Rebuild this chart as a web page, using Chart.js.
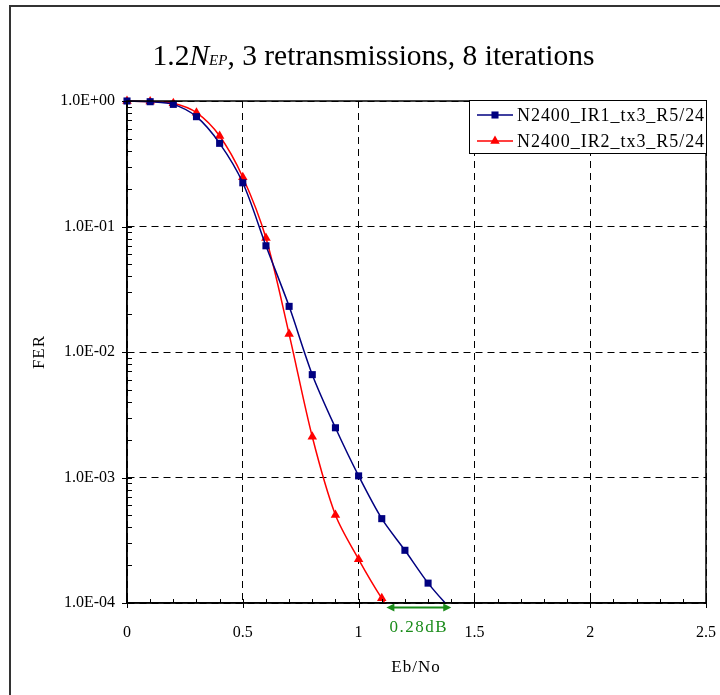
<!DOCTYPE html>
<html>
<head>
<meta charset="utf-8">
<script src="https://cdn.jsdelivr.net/npm/chart.js@4.4.1/dist/chart.umd.min.js"></script>
<style>
  html, body { margin: 0; padding: 0; background: #fff; }
  #wrap { width: 720px; height: 695px; }
</style>
</head>
<body>
<div id="wrap"><canvas id="fer" width="720" height="695"></canvas></div>
<script>
// values
const ebNoIR1 = [0, 0.1, 0.2, 0.3, 0.4, 0.5, 0.6, 0.7, 0.8, 0.9, 1.0, 1.1, 1.2, 1.3, 1.4];
const ferIR1 = [1.0, 0.987, 0.94, 0.75, 0.46, 0.223, 0.0702, 0.0231, 0.0066, 0.00249, 0.00103, 0.00047, 0.000263, 0.000144, 0.000088];
const ebNoIR2 = [0, 0.1, 0.2, 0.3, 0.4, 0.5, 0.6, 0.7, 0.8, 0.9, 1.0, 1.1, 1.2];
const ferIR2 = [1.0, 0.99, 0.958, 0.807, 0.526, 0.247, 0.0809, 0.0139, 0.00211, 0.000502, 0.000223, 0.000109, 0.00006];
const seriesNames = ['N2400_IR1_tx3_R5/24', 'N2400_IR2_tx3_R5/24'];

const xTicks = [0, 0.5, 1, 1.5, 2, 2.5];
const yTicks = [1, 1e-1, 1e-2, 1e-3, 1e-4];
const yTickLabels = ['1.0E+00', '1.0E-01', '1.0E-02', '1.0E-03', '1.0E-04'];

const gapFrom = 1.12, gapTo = 1.40;
const gapLabel = '0.28dB';

const SERIF = '"Liberation Serif", "Times New Roman", serif';

const toPts = (xs, ys) => xs.map((x, i) => ({ x: x, y: ys[i] }));

function drawTitle(ctx) {
  const parts = [
    { t: '1.2', f: '29.5px ' + SERIF },
    { t: 'N', f: 'italic 29.5px ' + SERIF },
    { t: 'EP', f: 'italic 15px ' + SERIF },
    { t: ', 3 retransmissions, 8 iterations', f: '29.5px ' + SERIF }
  ];
  let total = 0;
  parts.forEach(p => { ctx.font = p.f; p.w = ctx.measureText(p.t).width; total += p.w; });
  let x = 373.5 - total / 2;
  ctx.fillStyle = '#000';
  ctx.textBaseline = 'alphabetic';
  ctx.textAlign = 'left';
  parts.forEach(p => { ctx.font = p.f; ctx.fillText(p.t, x, 65); x += p.w; });
}

function drawArrowHead(ctx, x, y, dir) {
  ctx.beginPath();
  ctx.moveTo(x, y);
  ctx.lineTo(x - dir * 8, y - 4);
  ctx.lineTo(x - dir * 8, y + 4);
  ctx.closePath();
  ctx.fill();
}

const decor = {
  id: 'decor',
  afterDatasetsDraw(chart) {
    const { ctx, chartArea: a, scales: { x, y } } = chart;
    ctx.save();

    // plot frame
    ctx.strokeStyle = '#000';
    ctx.lineWidth = 1.5;
    ctx.strokeRect(a.left, a.top, a.right - a.left, a.bottom - a.top);

    // major and minor ticks
    ctx.lineWidth = 1;
    ctx.beginPath();
    for (let i = 0; i <= 25; i++) {
      const px = Math.round(x.getPixelForValue(i / 10)) + 0.5;
      const major = i % 5 === 0;
      ctx.moveTo(px, a.bottom - 4);
      ctx.lineTo(px, a.bottom + (major ? 5 : 0));
    }
    yTicks.forEach((d, i) => {
      const py = Math.round(y.getPixelForValue(d)) + 0.5;
      ctx.moveTo(a.left - 5, py);
      ctx.lineTo(a.left + 5, py);
      if (i < yTicks.length - 1) {
        for (let k = 2; k <= 9; k++) {
          const pm = Math.round(y.getPixelForValue(d / 10 * k)) + 0.5;
          ctx.moveTo(a.left, pm);
          ctx.lineTo(a.left + 5, pm);
        }
      }
    });
    ctx.stroke();

    // outer frame of the picture
    ctx.strokeStyle = '#333';
    ctx.lineWidth = 2;
    ctx.beginPath();
    ctx.moveTo(10, 695);
    ctx.lineTo(10, 6);
    ctx.lineTo(720, 6);
    ctx.stroke();

    drawTitle(ctx);

    // axis titles
    ctx.fillStyle = '#000';
    ctx.textAlign = 'center';
    ctx.textBaseline = 'middle';
    ctx.font = '17px ' + SERIF;
    ctx.letterSpacing = '1px';
    ctx.fillText('Eb/No', 416, 668);
    ctx.save();
    ctx.translate(40, 352);
    ctx.rotate(-Math.PI / 2);
    ctx.fillText('FER', 0, 0);
    ctx.restore();

    // gap annotation
    const g1 = x.getPixelForValue(gapFrom), g2 = x.getPixelForValue(gapTo);
    const gy = a.bottom + 4.5;
    ctx.strokeStyle = '#1a8c1a';
    ctx.fillStyle = '#1a8c1a';
    ctx.lineWidth = 2;
    ctx.beginPath();
    ctx.moveTo(g1 + 4, gy);
    ctx.lineTo(g2 - 4, gy);
    ctx.stroke();
    drawArrowHead(ctx, g1, gy, -1);
    drawArrowHead(ctx, g2, gy, 1);
    ctx.font = '17px ' + SERIF;
    ctx.letterSpacing = '1.5px';
    ctx.fillText(gapLabel, (g1 + g2) / 2, 628);

    // legend
    const lx = 469, ly = 100, lr = a.right, lb = 153;
    ctx.letterSpacing = '0px';
    ctx.fillStyle = '#fff';
    ctx.fillRect(lx, ly, lr - lx, lb - ly);
    ctx.strokeStyle = '#000';
    ctx.lineWidth = 1;
    ctx.strokeRect(lx + 0.5, ly + 0.5, lr - lx, lb - ly);
    chart.data.datasets.forEach((ds, i) => {
      const cy = 115 + i * 26;
      ctx.strokeStyle = ds.borderColor;
      ctx.lineWidth = 1.5;
      ctx.beginPath();
      ctx.moveTo(477, cy);
      ctx.lineTo(513, cy);
      ctx.stroke();
      ctx.fillStyle = ds.borderColor;
      Chart.helpers.drawPoint(ctx, { pointStyle: ds.pointStyle, radius: ds.pointRadius, borderWidth: 0 }, 495, cy);
      ctx.fillStyle = '#000';
      ctx.textAlign = 'left';
      ctx.textBaseline = 'middle';
      ctx.font = '18px ' + SERIF;
      ctx.letterSpacing = '0.95px';
      ctx.fillText(ds.label, 517, cy + 1);
    });
    ctx.letterSpacing = '0px';
    ctx.restore();
  }
};

new Chart(document.getElementById('fer'), {
  type: 'line',
  data: {
    datasets: [
      {
        label: seriesNames[0],
        data: toPts(ebNoIR1, ferIR1),
        borderColor: '#000080',
        backgroundColor: '#000080',
        borderWidth: 1.5,
        pointStyle: 'rect',
        pointRadius: 5,
        pointBorderWidth: 0,
        tension: 0.3,
        clip: { left: 10, top: 10, right: 10, bottom: 0 }
      },
      {
        label: seriesNames[1],
        data: toPts(ebNoIR2, ferIR2),
        borderColor: '#ff0000',
        backgroundColor: '#ff0000',
        borderWidth: 1.5,
        pointStyle: 'triangle',
        pointRadius: 5.5,
        pointBorderWidth: 0,
        tension: 0.3,
        clip: { left: 10, top: 10, right: 10, bottom: 0 }
      }
    ]
  },
  options: {
    responsive: false,
    animation: false,
    devicePixelRatio: 1,
    layout: { padding: { left: 0, right: 14, top: 101, bottom: 0 } },
    plugins: {
      legend: { display: false },
      title: { display: false },
      tooltip: { enabled: false }
    },
    scales: {
      x: {
        type: 'linear',
        min: 0,
        max: 2.5,
        afterBuildTicks: s => { s.ticks = xTicks.map(v => ({ value: v })); },
        afterFit: s => { s.height = 92; s.paddingLeft = 0; s.paddingRight = 0; },
        ticks: {
          color: '#000',
          padding: 20,
          maxRotation: 0,
          font: { family: SERIF, size: 16 },
          callback: v => String(v)
        },
        grid: { color: '#000', lineWidth: 1, drawTicks: false },
        border: { display: true, color: '#000', width: 1.5, dash: [7, 5] }
      },
      y: {
        type: 'logarithmic',
        min: 1e-4,
        max: 1,
        afterBuildTicks: s => { s.ticks = yTicks.map(v => ({ value: v })); },
        afterFit: s => { s.width = 127; s.paddingTop = 0; s.paddingBottom = 0; },
        ticks: {
          color: '#000',
          padding: 12,
          font: { family: SERIF, size: 16 },
          callback: v => yTickLabels[yTicks.indexOf(v)] || ''
        },
        grid: { color: '#000', lineWidth: 1, drawTicks: false },
        border: { display: true, color: '#000', width: 1.5, dash: [7, 5] }
      }
    }
  },
  plugins: [decor]
});
</script>
</body>
</html>
